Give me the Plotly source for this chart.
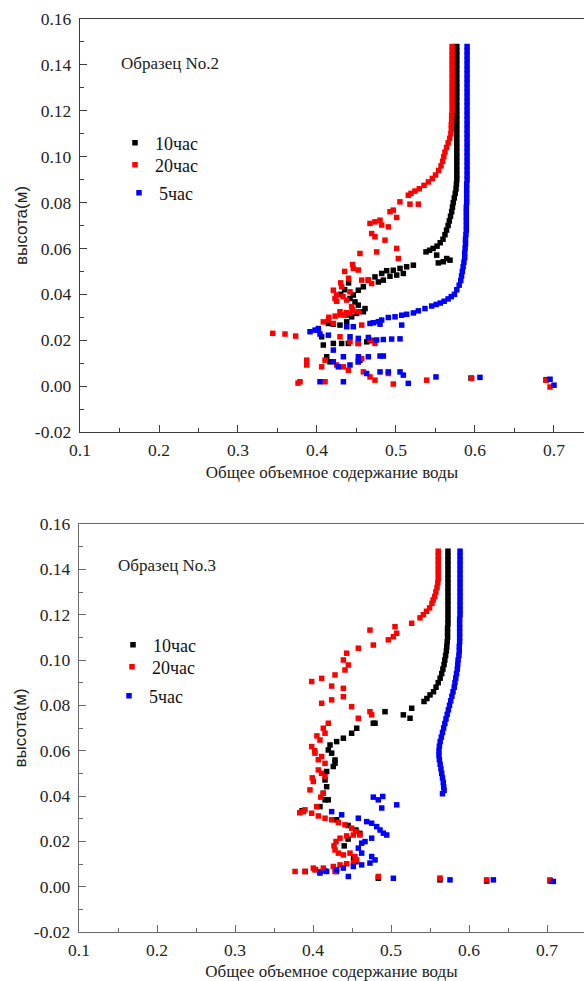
import plotly.graph_objects as go

# ---------------------------------------------------------------
# Sample No.2 : (water content, height) pairs for each time step
# ---------------------------------------------------------------
no2_10h = [
    (0.577, 0.148), (0.577, 0.146), (0.577, 0.144), (0.577, 0.142), (0.577, 0.140),
    (0.577, 0.138), (0.577, 0.136), (0.577, 0.134), (0.577, 0.132), (0.577, 0.130),
    (0.577, 0.128), (0.577, 0.126), (0.577, 0.124), (0.577, 0.122), (0.577, 0.120),
    (0.577, 0.118), (0.577, 0.116), (0.577, 0.114), (0.577, 0.112), (0.577, 0.110),
    (0.577, 0.108), (0.577, 0.106), (0.577, 0.104), (0.577, 0.102), (0.577, 0.100),
    (0.577, 0.098), (0.577, 0.096), (0.577, 0.094), (0.577, 0.092), (0.577, 0.090),
    (0.5765, 0.088), (0.576, 0.086), (0.575, 0.084), (0.5738, 0.082), (0.5725, 0.080),
    (0.5715, 0.078), (0.5705, 0.076), (0.569, 0.074), (0.5675, 0.072), (0.566, 0.070),
    (0.564, 0.068), (0.562, 0.066), (0.5595, 0.064), (0.556, 0.0625), (0.552, 0.061),
    (0.547, 0.060), (0.5425, 0.0592), (0.538, 0.0585),
    (0.5515, 0.0571), (0.5642, 0.0556), (0.5536, 0.0537), (0.5684, 0.0549), (0.5599, 0.0542),
    (0.522, 0.0527), (0.5135, 0.0520), (0.5051, 0.0513), (0.4966, 0.0505), (0.4882, 0.0503),
    (0.4819, 0.0491), (0.4734, 0.0476), (0.465, 0.0462), (0.4587, 0.0433), (0.4523, 0.0418),
    (0.446, 0.0397), (0.4418, 0.0382), (0.4481, 0.0367), (0.4523, 0.0353), (0.4608, 0.0338),
    (0.4587, 0.0324), (0.4502, 0.0317), (0.4439, 0.0302), (0.4376, 0.0280), (0.4291, 0.0266),
    (0.4207, 0.0270), (0.4144, 0.0273), (0.4017, 0.0244), (0.4059, 0.0215), (0.408, 0.0179),
    (0.4207, 0.0186), (0.4312, 0.0186), (0.4397, 0.0186), (0.4523, 0.0186), (0.4629, 0.0193),
    (0.4692, 0.0198), (0.4123, 0.0128), (0.4165, 0.0106), (0.4544, 0.0113), (0.484, 0.0462),
    (0.4924, 0.0479), (0.5009, 0.0484), (0.5093, 0.0491), (0.4777, 0.0454),
    (0.435, 0.042), (0.440, 0.045), (0.430, 0.040), (0.445, 0.033), (0.440, 0.031),
    (0.595, 0.0035), (0.690, 0.0028),
]

no2_20h = [
    (0.571, 0.148), (0.571, 0.146), (0.571, 0.144), (0.571, 0.142), (0.571, 0.140),
    (0.571, 0.138), (0.571, 0.136), (0.571, 0.134), (0.571, 0.132), (0.571, 0.130),
    (0.571, 0.128), (0.571, 0.126), (0.571, 0.124), (0.571, 0.122), (0.571, 0.120),
    (0.5705, 0.118), (0.5705, 0.116), (0.570, 0.114), (0.570, 0.112),
    (0.5695, 0.110), (0.568, 0.108), (0.566, 0.106), (0.564, 0.104), (0.562, 0.102),
    (0.5605, 0.100), (0.559, 0.098), (0.557, 0.096), (0.554, 0.094), (0.550, 0.092),
    (0.546, 0.0905), (0.541, 0.089), (0.5355, 0.0875), (0.5295, 0.086), (0.524, 0.085),
    (0.519, 0.084), (0.5156, 0.0832),
    (0.505, 0.0803), (0.5177, 0.0793), (0.5283, 0.0793), (0.4966, 0.0767), (0.4924, 0.0760),
    (0.5009, 0.0735), (0.4798, 0.0723), (0.4734, 0.0716), (0.4671, 0.0709), (0.4819, 0.0702),
    (0.4903, 0.0694), (0.4692, 0.0665), (0.4734, 0.0651), (0.4861, 0.0636), (0.4544, 0.0578),
    (0.4755, 0.0585), (0.5009, 0.0600), (0.503, 0.0556), (0.446, 0.0513), (0.4523, 0.0506),
    (0.4566, 0.0462), (0.465, 0.0462), (0.4692, 0.0447), (0.4207, 0.0418), (0.4249, 0.0397),
    (0.4312, 0.0433), (0.4418, 0.0411), (0.4228, 0.0382), (0.4376, 0.0375), (0.4439, 0.0346),
    (0.4291, 0.0324), (0.4355, 0.0309), (0.4418, 0.0317), (0.4523, 0.0324), (0.4144, 0.0288),
    (0.408, 0.0280), (0.4207, 0.0273), (0.4566, 0.0266), (0.4291, 0.0215), (0.4418, 0.0193),
    (0.4523, 0.0186), (0.4671, 0.0201), (0.4734, 0.0186), (0.387, 0.0113), (0.387, 0.0092),
    (0.4102, 0.0113), (0.4059, 0.0084), (0.4249, 0.0092), (0.4334, 0.0084), (0.4523, 0.0106),
    (0.4566, 0.0120), (0.4397, 0.0069), (0.4587, 0.0062), (0.4671, 0.0040), (0.4734, 0.0026),
    (0.4903, 0.0055), (0.4966, 0.0009), (0.3785, 0.0019), (0.4102, 0.0019), (0.5388, 0.0026),
    (0.5958, 0.0033), (0.344, 0.0230), (0.3595, 0.0227), (0.373, 0.0218), (0.376, 0.0013),
    (0.690, 0.0026), (0.695, -0.0004),
    (0.435, 0.050), (0.440, 0.047), (0.430, 0.045), (0.425, 0.037), (0.433, 0.039),
    (0.445, 0.053), (0.415, 0.030), (0.423, 0.0305), (0.430, 0.031), (0.437, 0.032),
    (0.445, 0.033),
]

no2_5h = [
    (0.590, 0.148), (0.590, 0.146), (0.590, 0.144), (0.590, 0.142), (0.590, 0.140),
    (0.590, 0.138), (0.590, 0.136), (0.590, 0.134), (0.590, 0.132), (0.590, 0.130),
    (0.590, 0.128), (0.590, 0.126), (0.590, 0.124), (0.590, 0.122), (0.590, 0.120),
    (0.590, 0.118), (0.590, 0.116), (0.590, 0.114), (0.590, 0.112), (0.590, 0.110),
    (0.590, 0.108), (0.590, 0.106), (0.590, 0.104), (0.590, 0.102), (0.590, 0.100),
    (0.590, 0.098), (0.590, 0.096), (0.590, 0.094), (0.590, 0.092), (0.590, 0.090),
    (0.5895, 0.088), (0.5895, 0.086), (0.5895, 0.084), (0.5895, 0.082), (0.5895, 0.080),
    (0.589, 0.078), (0.589, 0.076), (0.589, 0.074), (0.589, 0.072), (0.589, 0.070),
    (0.589, 0.068),
    (0.5885, 0.066), (0.588, 0.064), (0.588, 0.062), (0.5875, 0.060), (0.587, 0.058),
    (0.587, 0.056), (0.586, 0.054), (0.585, 0.052), (0.584, 0.050), (0.583, 0.048),
    (0.582, 0.046), (0.580, 0.044), (0.577, 0.042), (0.574, 0.040), (0.570, 0.039),
    (0.566, 0.038), (0.561, 0.037), (0.556, 0.0362), (0.551, 0.0356), (0.5452, 0.0349),
    (0.5367, 0.0338), (0.5283, 0.0328), (0.522, 0.0319), (0.5135, 0.0313), (0.5072, 0.0309),
    (0.4988, 0.0302), (0.4903, 0.0299), (0.4819, 0.0288), (0.4777, 0.0281), (0.4713, 0.0276),
    (0.4671, 0.0273), (0.4798, 0.0270), (0.5072, 0.0266), (0.446, 0.0259), (0.4376, 0.0259),
    (0.4017, 0.0251), (0.3975, 0.0244), (0.3912, 0.0237), (0.4038, 0.0227), (0.4144, 0.0222),
    (0.4418, 0.0215), (0.4523, 0.0208), (0.465, 0.0212), (0.4755, 0.0201), (0.484, 0.0203),
    (0.4945, 0.0205), (0.5051, 0.0206), (0.4207, 0.0157), (0.4334, 0.0128), (0.4523, 0.0128),
    (0.465, 0.0128), (0.4798, 0.0131), (0.484, 0.0131), (0.4207, 0.0106), (0.427, 0.0084),
    (0.4418, 0.0092), (0.4523, 0.0106), (0.4629, 0.0055), (0.4798, 0.0062), (0.4903, 0.0062),
    (0.5051, 0.0062), (0.5093, 0.0048), (0.5156, 0.0012), (0.4038, 0.0019), (0.4334, 0.0019),
    (0.5506, 0.0040), (0.6063, 0.0038), (0.695, 0.0030), (0.700, 0.0004),
]

# ---------------------------------------------------------------
# Sample No.3
# ---------------------------------------------------------------
no3_10h = [
    (0.573, 0.148), (0.573, 0.146), (0.573, 0.144), (0.573, 0.142), (0.573, 0.140),
    (0.573, 0.138), (0.573, 0.136), (0.573, 0.134), (0.573, 0.132), (0.573, 0.130),
    (0.573, 0.128), (0.573, 0.126), (0.573, 0.124), (0.573, 0.122), (0.573, 0.120),
    (0.573, 0.118), (0.573, 0.116), (0.5725, 0.114), (0.5725, 0.112),
    (0.5725, 0.110), (0.572, 0.108), (0.5715, 0.106), (0.571, 0.104), (0.570, 0.102),
    (0.569, 0.100), (0.568, 0.098), (0.5665, 0.096), (0.565, 0.094), (0.563, 0.092),
    (0.5605, 0.090), (0.5577, 0.088), (0.5545, 0.086), (0.550, 0.0846), (0.546, 0.083),
    (0.5423, 0.0817),
    (0.5265, 0.0787), (0.5158, 0.0758), (0.5244, 0.0743), (0.4923, 0.0772), (0.4773, 0.0721),
    (0.4795, 0.0721), (0.456, 0.0699), (0.4495, 0.0677), (0.4389, 0.0655), (0.4303, 0.0640),
    (0.4218, 0.0625), (0.4196, 0.0603), (0.4239, 0.0589), (0.4282, 0.0559), (0.4282, 0.0545),
    (0.426, 0.0530), (0.4175, 0.0508), (0.4154, 0.0471), (0.4175, 0.0441), (0.4132, 0.0412),
    (0.4154, 0.0383), (0.4196, 0.0383), (0.4089, 0.0353), (0.386, 0.0335),
    (0.4303, 0.0295), (0.445, 0.027), (0.455, 0.025), (0.460, 0.0235), (0.445, 0.021),
    (0.440, 0.018), (0.452, 0.013), (0.455, 0.011),
    (0.390, 0.0067), (0.403, 0.0075), (0.415, 0.0070), (0.430, 0.0067), (0.4837, 0.0037),
    (0.5628, 0.0030), (0.6226, 0.0025), (0.704, 0.0025),
]

no3_20h = [
    (0.5605, 0.148), (0.5605, 0.146), (0.5605, 0.144), (0.5605, 0.142), (0.5605, 0.140),
    (0.5605, 0.138), (0.5605, 0.136),
    (0.560, 0.134), (0.559, 0.132), (0.5575, 0.130), (0.556, 0.128), (0.554, 0.1265),
    (0.5525, 0.125), (0.5495, 0.123), (0.5455, 0.1215), (0.5415, 0.120), (0.5372, 0.1186),
    (0.5265, 0.1162), (0.5051, 0.1147), (0.5073, 0.1118), (0.503, 0.1103), (0.4966, 0.1089),
    (0.4730, 0.1132), (0.4581, 0.1052), (0.4773, 0.1066), (0.4431, 0.1030), (0.4389, 0.1000),
    (0.4453, 0.0978), (0.4410, 0.0956), (0.4282, 0.0934), (0.4111, 0.0919), (0.3983, 0.0905),
    (0.4239, 0.0885), (0.4389, 0.0875), (0.4389, 0.0838), (0.4239, 0.0824), (0.4111, 0.0809),
    (0.4495, 0.0794), (0.4581, 0.0743), (0.4730, 0.0772), (0.4752, 0.0758), (0.4196, 0.0721),
    (0.4132, 0.0699), (0.4154, 0.0677), (0.4089, 0.0647), (0.405, 0.0665), (0.3983, 0.0618),
    (0.402, 0.0600), (0.4025, 0.0589), (0.4111, 0.0574), (0.4068, 0.0560), (0.4154, 0.0544),
    (0.4068, 0.0515), (0.411, 0.0500), (0.4154, 0.0486), (0.4004, 0.0464), (0.399, 0.0480),
    (0.3961, 0.0427), (0.4132, 0.0412), (0.410, 0.0395), (0.4047, 0.0353), (0.383, 0.0326),
    (0.3876, 0.0331), (0.3897, 0.0339), (0.3983, 0.0324), (0.4068, 0.0312), (0.4154, 0.0302),
    (0.4239, 0.0295), (0.4325, 0.0283), (0.441, 0.0273), (0.4495, 0.0258), (0.456, 0.0243),
    (0.4602, 0.0228), (0.4517, 0.0228), (0.4431, 0.0224), (0.4346, 0.0214), (0.4295, 0.0199),
    (0.4269, 0.0180), (0.4282, 0.0162), (0.4325, 0.0148), (0.4389, 0.0140), (0.4474, 0.0148),
    (0.4538, 0.0133), (0.456, 0.0118), (0.4517, 0.0106), (0.4431, 0.0101), (0.4346, 0.0096),
    (0.426, 0.0089), (0.4132, 0.0082), (0.4004, 0.0082), (0.3897, 0.0067), (0.377, 0.0067),
    (0.4025, 0.0075), (0.409, 0.0067), (0.4282, 0.0067), (0.4837, 0.0045), (0.5628, 0.0038),
    (0.6226, 0.0030), (0.7038, 0.0030),
]

no3_5h = [
    (0.5885, 0.148), (0.5885, 0.146), (0.5885, 0.144), (0.5885, 0.142), (0.5885, 0.140),
    (0.5885, 0.138), (0.5885, 0.136), (0.5885, 0.134), (0.5885, 0.132), (0.5885, 0.130),
    (0.5885, 0.128), (0.5885, 0.126), (0.5885, 0.124), (0.5885, 0.122), (0.5885, 0.120),
    (0.588, 0.118), (0.588, 0.116), (0.588, 0.114), (0.588, 0.112), (0.588, 0.110),
    (0.588, 0.108), (0.5875, 0.106),
    (0.5875, 0.104), (0.587, 0.102), (0.586, 0.100), (0.5855, 0.098), (0.585, 0.096),
    (0.584, 0.094), (0.583, 0.092), (0.582, 0.090), (0.581, 0.088), (0.5795, 0.086),
    (0.578, 0.084), (0.5765, 0.082), (0.575, 0.080), (0.5735, 0.078), (0.572, 0.076),
    (0.5705, 0.074), (0.569, 0.072), (0.5675, 0.070), (0.566, 0.068), (0.5645, 0.066),
    (0.563, 0.064), (0.562, 0.062), (0.5615, 0.060), (0.5615, 0.058), (0.562, 0.056),
    (0.563, 0.054), (0.564, 0.052), (0.565, 0.050), (0.566, 0.048), (0.567, 0.046),
    (0.5675, 0.044), (0.568, 0.0425), (0.566, 0.041),
    (0.4773, 0.0395), (0.4837, 0.0383), (0.4894, 0.0398), (0.4881, 0.0347), (0.5073, 0.0361),
    (0.4239, 0.0331), (0.4367, 0.0317), (0.4581, 0.0302), (0.4688, 0.0287), (0.4752, 0.0280),
    (0.4816, 0.0265), (0.4859, 0.0250), (0.4902, 0.0236), (0.4945, 0.0228), (0.4752, 0.0214),
    (0.4667, 0.0199), (0.4624, 0.0192), (0.4581, 0.0170), (0.4624, 0.0148), (0.4752, 0.0133),
    (0.4795, 0.0118), (0.4730, 0.0104), (0.4624, 0.0096), (0.4517, 0.0089), (0.4389, 0.0082),
    (0.4303, 0.0074), (0.4175, 0.0067), (0.4089, 0.0060), (0.4453, 0.0045), (0.503, 0.0037),
    (0.5756, 0.0030), (0.6312, 0.0030), (0.7081, 0.0023),
]

# legend labels and colours
series_names = ["10час", "20час", "5час"]
series_colors = ["#000000", "#ff0000", "#0000ff"]

# axis ticks
x_tick_vals = [0.1, 0.2, 0.3, 0.4, 0.5, 0.6, 0.7]
x_tick_text = ["0.1", "0.2", "0.3", "0.4", "0.5", "0.6", "0.7"]
y_tick_vals = [-0.02, 0.0, 0.02, 0.04, 0.06, 0.08, 0.10, 0.12, 0.14, 0.16]
y_tick_text = ["-0.02", "0.00", "0.02", "0.04", "0.06", "0.08", "0.10", "0.12", "0.14", "0.16"]

SERIF = "Liberation Serif, Times New Roman, serif"
SANS = "Liberation Sans, Arial, sans-serif"

W, H = 584, 981

# each legend entry gets its own small legend box: (symbol centre x, row centre y) in px
legend_slots = {
    "p2": [(135, 143), (135, 165), (139, 193)],
    "p3": [(133, 645), (132, 667), (129, 696)],
}

fig = go.Figure()

panels = [
    dict(data=[no2_10h, no2_20h, no2_5h], xa="x", ya="y", tag="p2", first=1),
    dict(data=[no3_10h, no3_20h, no3_5h], xa="x2", ya="y2", tag="p3", first=4),
]

legend_layout = {}
for p in panels:
    for i, (name, color, pts) in enumerate(zip(series_names, series_colors, p["data"])):
        num = p["first"] + i
        legend_id = "legend" if num == 1 else f"legend{num}"
        xs = [pt[0] for pt in pts]
        ys = [pt[1] for pt in pts]
        fig.add_trace(go.Scatter(
            x=xs, y=ys, mode="markers", name=name, showlegend=True,
            marker=dict(symbol="square", size=5.5, color=color, line=dict(width=0)),
            xaxis=p["xa"], yaxis=p["ya"], legend=legend_id,
        ))
        sx, sy = legend_slots[p["tag"]][i]
        legend_layout[legend_id] = dict(
            x=(sx - 20) / W, y=1 - sy / H, xanchor="left", yanchor="middle",
            font=dict(family=SERIF, size=18, color="#111"),
            bgcolor="rgba(0,0,0,0)", borderwidth=0,
        )


def x_axis(domain, rng, anchor, linecolor):
    return dict(
        domain=domain, range=rng, anchor=anchor,
        showline=True, linecolor=linecolor, linewidth=1.4, mirror=True,
        ticks="inside", ticklen=7, tickwidth=1.2, tickcolor=linecolor,
        tickmode="array", tickvals=x_tick_vals, ticktext=x_tick_text,
        minor=dict(ticks="inside", ticklen=4, tickcolor=linecolor,
                   tickvals=[0.15, 0.25, 0.35, 0.45, 0.55, 0.65, 0.75]),
        showgrid=False, zeroline=False, automargin=False,
        ticklabelstandoff=2,
        tickfont=dict(family=SERIF, size=17.5, color="#222"),
        title=dict(text="Общее объемное содержание воды",
                   font=dict(family=SERIF, size=17, color="#222"), standoff=6),
    )


def y_axis(domain, anchor, linecolor):
    return dict(
        domain=domain, range=[-0.02, 0.16], anchor=anchor,
        showline=True, linecolor=linecolor, linewidth=1.4, mirror=False,
        ticks="inside", ticklen=7, tickwidth=1.2, tickcolor=linecolor,
        tickmode="array", tickvals=y_tick_vals, ticktext=y_tick_text,
        minor=dict(ticks="inside", ticklen=4, tickcolor=linecolor,
                   tickvals=[-0.01, 0.01, 0.03, 0.05, 0.07, 0.09, 0.11, 0.13, 0.15]),
        showgrid=False, zeroline=False, automargin=False,
        ticklabelstandoff=4,
        tickfont=dict(family=SERIF, size=17.5, color="#222"),
        title=dict(text="высота(м)", font=dict(family=SANS, size=17, color="#222"),
                   standoff=2),
    )


fig.update_layout(
    width=W, height=H,
    showlegend=True,
    margin=dict(l=0, r=0, t=0, b=0),
    paper_bgcolor="white", plot_bgcolor="white",
    xaxis=x_axis([80 / W, 1.0], [0.1, 0.738], "y", "#3c3c3c"),
    yaxis=y_axis([1 - 432 / H, 1 - 19 / H], "x", "#3c3c3c"),
    xaxis2=x_axis([79 / W, 1.0], [0.1, 0.7474], "y2", "#6a6a6a"),
    yaxis2=y_axis([1 - 932 / H, 1 - 524 / H], "x2", "#6a6a6a"),
    annotations=[
        dict(text="Образец No.2", x=0.2139, y=0.1408, xref="x", yref="y",
             showarrow=False, font=dict(family=SERIF, size=17, color="#222")),
        dict(text="Образец No.3", x=0.2128, y=0.1415, xref="x2", yref="y2",
             showarrow=False, font=dict(family=SERIF, size=17, color="#222")),
    ],
    **legend_layout,
)

fig.write_html("out.html")
